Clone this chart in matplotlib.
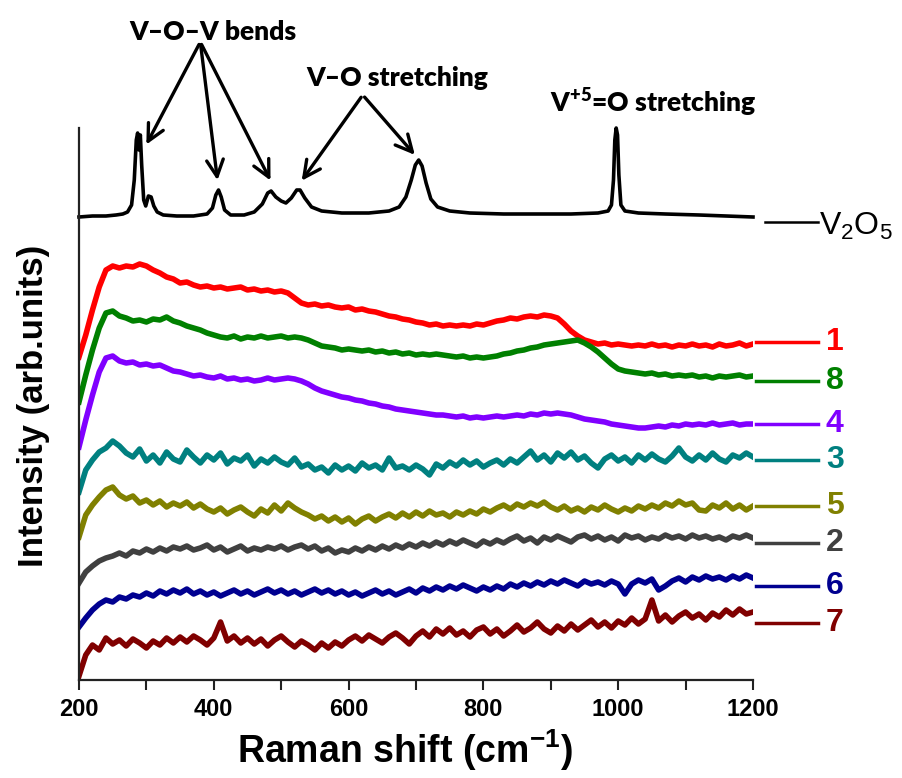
import matplotlib
matplotlib.use('Agg')
import matplotlib.pyplot as plt
import numpy as np

# Raman shift grid for the sample spectra (cm-1)
shift = np.arange(200, 1201, 10)

# sample spectra, offset intensities (arb. units)
s1 = [323, 345, 370, 393, 410, 414, 412, 414, 413, 416,
      414, 410, 407, 403, 401, 397, 398, 395, 393, 394,
      392, 393, 391, 392, 393, 390, 391, 389, 390, 388,
      389, 387, 382, 377, 375, 376, 374, 375, 373, 372,
      373, 370, 371, 369, 368, 366, 364, 363, 361, 360,
      358, 357, 355, 356, 354, 355, 354, 355, 354, 356,
      355, 357, 359, 360, 362, 361, 363, 364, 363, 365,
      364, 362, 356, 349, 344, 340, 338, 336, 337, 335,
      336, 335, 334, 335, 334, 336, 334, 335, 333, 335,
      334, 336, 334, 335, 333, 336, 334, 335, 337, 334,
      336]
s8 = [278, 305, 330, 352, 367, 369, 364, 362, 359, 360,
      358, 361, 360, 363, 359, 357, 354, 352, 350, 347,
      345, 343, 342, 344, 341, 343, 342, 344, 342, 343,
      344, 342, 343, 342, 340, 337, 334, 333, 332, 330,
      331, 330, 329, 330, 328, 329, 327, 328, 326, 327,
      325, 326, 325, 326, 325, 324, 323, 324, 322, 323,
      322, 323, 324, 326, 327, 329, 330, 332, 333, 335,
      336, 337, 338, 339, 340, 337, 333, 328, 322, 316,
      311, 309, 308, 307, 306, 307, 305, 306, 304, 305,
      304, 305, 303, 304, 302, 304, 303, 304, 305, 303,
      304]
s4 = [233, 260, 285, 308, 322, 324, 319, 317, 318, 315,
      316, 314, 315, 312, 309, 308, 306, 304, 305, 303,
      302, 304, 301, 302, 300, 301, 299, 300, 302, 300,
      301, 302, 301, 299, 296, 292, 289, 287, 285, 283,
      282, 280, 279, 277, 276, 274, 273, 271, 270, 269,
      268, 267, 266, 265, 265, 264, 263, 264, 262, 263,
      262, 263, 264, 263, 264, 265, 264, 266, 265, 267,
      266, 267, 266, 265, 263, 261, 260, 259, 258, 256,
      255, 254, 253, 252, 252, 253, 254, 253, 255, 254,
      256, 255, 256, 255, 257, 255, 256, 257, 255, 256,
      256]
s3 = [188, 210, 220, 228, 232, 239, 234, 227, 223, 231,
      219, 225, 217, 228, 221, 218, 230, 223, 217, 225,
      220, 227, 216, 222, 219, 225, 214, 221, 217, 223,
      218, 215, 222, 213, 216, 210, 213, 207, 215, 210,
      214, 209, 217, 212, 215, 210, 222, 212, 214, 210,
      215, 211, 205, 216, 212, 218, 214, 220, 215, 219,
      213, 217, 220, 215, 221, 217, 223, 229, 220, 225,
      218, 227, 222, 228, 220, 224, 217, 212, 221, 225,
      219, 223, 217, 225, 220, 226, 221, 218, 224, 232,
      223, 219, 225, 220, 227, 221, 218, 225, 222, 227,
      223]
s5 = [143, 165, 175, 183, 190, 193, 185, 181, 184, 177,
      180, 175, 179, 173, 177, 174, 178, 172, 176, 171,
      168, 172, 166, 170, 173, 168, 164, 171, 167, 175,
      169, 177, 172, 168, 165, 161, 164, 159, 163, 158,
      162, 156, 161, 164, 159, 163, 166, 162, 167, 163,
      168, 164, 169, 165, 167, 163, 168, 165, 169, 166,
      171, 168, 172, 175, 171, 176, 173, 177, 174, 178,
      173, 170, 174, 169, 172, 168, 173, 170, 175, 171,
      168, 172, 169, 174, 171, 175, 172, 177, 174, 179,
      175, 177, 170, 169, 175, 172, 177, 171, 175, 170,
      174]
s2 = [97, 108, 114, 119, 122, 124, 127, 124, 129, 127,
      131, 128, 132, 129, 133, 131, 134, 130, 132, 135,
      130, 133, 128, 131, 134, 129, 132, 130, 133, 131,
      134, 130, 133, 135, 131, 134, 129, 132, 127, 130,
      128, 132, 129, 133, 130, 134, 131, 135, 132, 136,
      133, 137, 134, 138, 135, 139, 136, 140, 137, 134,
      139, 136, 140, 137, 141, 144, 139, 142, 137, 143,
      140, 144, 141, 138, 143, 145, 141, 144, 140, 143,
      139, 145, 142, 144, 140, 143, 141, 145, 142, 144,
      141, 145, 142, 144, 141, 143, 140, 144, 142, 145,
      142]
s6 = [53, 62, 70, 76, 80, 78, 83, 81, 85, 83,
      87, 84, 89, 86, 90, 87, 91, 86, 89, 85,
      88, 84, 87, 90, 86, 89, 85, 88, 91, 87,
      90, 86, 89, 85, 88, 91, 87, 90, 86, 89,
      85, 88, 84, 87, 90, 86, 89, 85, 88, 91,
      87, 92, 89, 93, 90, 94, 91, 95, 92, 89,
      93, 90, 94, 91, 96, 93, 97, 94, 98, 95,
      99, 96, 100, 97, 94, 99, 96, 98, 95, 99,
      96, 86, 96, 100, 97, 101, 90, 94, 99, 102,
      98, 103, 100, 104, 101, 103, 100, 104, 101, 105,
      102]
s7 = [4, 25, 35, 30, 42, 36, 40, 34, 41, 37,
      32, 39, 35, 42, 37, 43, 38, 44, 40, 35,
      42, 58, 39, 44, 37, 42, 36, 41, 34, 40,
      44, 38, 33, 39, 35, 30, 37, 32, 38, 34,
      40, 44, 39, 45, 41, 37, 43, 47, 42, 36,
      44, 49, 43, 51, 46, 52, 45, 49, 43, 50,
      53, 46, 51, 44, 49, 55, 48, 52, 58, 51,
      47, 54, 49, 56, 50, 55, 60, 53, 58, 52,
      59, 55, 62, 56, 61, 80, 59, 65, 58, 64,
      68, 62, 66, 60, 67, 63, 70, 65, 71, 66,
      68]

# reference V2O5 spectrum
v2o5_x = [200, 220, 240, 255, 265, 272, 278, 282, 285, 287,
          289, 291, 293, 296, 299, 303, 307, 311, 316, 325,
          345, 370, 390, 398, 403, 407, 411, 416, 425, 445,
          460, 472, 480, 485, 492, 500, 507, 515, 523, 528,
          535, 545, 560, 590, 630, 660, 675, 685, 693, 699,
          704, 709, 715, 722, 732, 750, 780, 830, 880, 930,
          970, 985, 990, 993, 995, 997, 999, 1001, 1004, 1010,
          1030, 1070, 1120, 1160, 1200]
v2o5_y = [463, 464, 464, 465, 466, 468, 475, 500, 540, 547,
          530, 545, 515, 480, 474, 484, 483, 474, 468, 465,
          464, 464, 466, 472, 485, 490, 483, 470, 465, 465,
          468, 476, 487, 489, 483, 479, 477, 482, 490, 490,
          482, 473, 469, 467, 467, 469, 473, 483, 500, 515,
          520, 514, 497, 481, 473, 469, 467, 466, 466, 466,
          467, 469, 475, 500, 540, 552, 545, 505, 475, 469,
          467, 466, 465, 464, 463]

names = ['1', '8', '4', '3', '5', '2', '6', '7']
spectra = [s1, s8, s4, s3, s5, s2, s6, s7]
colors = ['#ff0000', '#008000', '#8000ff', '#008080',
          '#808000', '#404040', '#000090', '#800000']
label_y = [338, 299, 256, 220, 174, 137, 94, 57]

fig = plt.figure(figsize=(9.03, 7.78), dpi=100)
ax = fig.add_axes([79/903, 98/778, 674/903, 552/778])

ax.plot(v2o5_x, v2o5_y, color='black', lw=2.6, clip_on=False)
for s, c in zip(spectra, colors):
    ax.plot(shift, s, color=c, lw=4)

ax.set_xlim(200, 1200)
ax.set_ylim(0, 552)

# labels on the right
ax.plot([1218, 1296], [458, 458], color='black', lw=1.8, clip_on=False)
ax.text(1298, 454, r'V$\mathregular{_2}$O$\mathregular{_5}$', fontsize=23,
        family='Liberation Sans', va='center', ha='left')
for n, c, ly in zip(names, colors, label_y):
    ax.plot([1205, 1296], [ly, ly], color=c, lw=2.5, clip_on=False)
    ax.text(1308, ly, n, color=c, fontsize=23, fontweight='bold',
            family='Liberation Sans', va='center', ha='left')

# peak assignments
afont = dict(fontsize=19, fontweight='heavy', family='Lato', ha='center', va='center')
ax.text(399, 648, 'V–O–V bends', **afont)
ax.text(672, 602, 'V–O stretching', **afont)
ax.text(1052, 577, r'V$\mathregular{^{+5}}$=O stretching', **afont)
aprops = dict(arrowstyle='->', lw=2.4, color='black', mutation_scale=30)
for tip in [(298, 533), (406, 497), (486, 497)]:
    ax.annotate('', xy=tip, xytext=(380, 638), arrowprops=aprops,
                annotation_clip=False)
for tip in [(528, 497), (701, 523)]:
    ax.annotate('', xy=tip, xytext=(621, 585), arrowprops=aprops,
                annotation_clip=False)

# axes styling
for sp in ['top', 'right']:
    ax.spines[sp].set_visible(False)
for sp in ['left', 'bottom']:
    ax.spines[sp].set_linewidth(1.6)
    ax.spines[sp].set_color('#222222')
ax.set_yticks([])
ax.set_xticks(range(200, 1201, 200))
ax.set_xticks(range(300, 1200, 200), minor=True)
ax.tick_params(axis='x', which='both', direction='out', length=7, width=1.5,
               color='#222222')
ax.tick_params(axis='x', which='major', pad=6)
for lab in ax.get_xticklabels():
    lab.set_family('Liberation Sans')
    lab.set_fontweight('bold')
    lab.set_fontsize(17)

fig.text(405/903, 1 - 750/778, r'Raman shift (cm$\mathregular{^{-1}}$)',
         fontsize=27, fontweight='bold', family='Liberation Sans',
         ha='center', va='center')
fig.text(34/903, 1 - 406/778, 'Intensity (arb.units)', rotation=90,
         fontsize=25, fontweight='bold', family='Liberation Sans',
         ha='center', va='center')

fig.savefig('out.png', dpi=100)
